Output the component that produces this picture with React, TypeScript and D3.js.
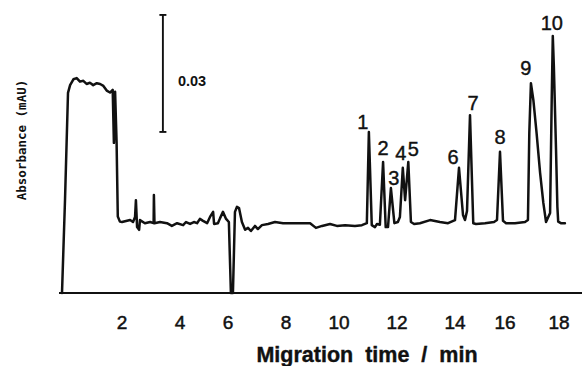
import React from 'react';
import * as d3 from 'd3';

type Pt = [number, number]; // [migration time (min), absorbance (AU)]

// Injection plug / solvent plateau, 0–2 min
const plateau: Pt[] = [
  [0.0, 0.0], [0.1, 0.0238], [0.2, 0.0513], [0.27, 0.0533], [0.38, 0.0548],
  [0.49, 0.0551], [0.6, 0.0542], [0.71, 0.0544], [0.82, 0.0536], [0.93, 0.0539],
  [1.04, 0.0533], [1.16, 0.0538], [1.27, 0.0536], [1.38, 0.0531], [1.49, 0.0519],
  [1.6, 0.0514], [1.69, 0.0521], [1.73, 0.0385], [1.77, 0.0516], [1.82, 0.0385],
  [1.86, 0.0196], [1.93, 0.0183],
];

// Noisy baseline with the EOF disturbance near 6 min
const baselineNoise: Pt[] = [
  [2.0, 0.0182], [2.28, 0.0187], [2.38, 0.0182], [2.45, 0.0195], [2.48, 0.0238],
  [2.52, 0.0169], [2.59, 0.0162], [2.62, 0.0187], [2.79, 0.0179], [2.97, 0.0182],
  [3.09, 0.0179], [3.1, 0.0251], [3.12, 0.0179], [3.31, 0.0182], [3.55, 0.0179],
  [3.72, 0.0172], [3.9, 0.0179], [4.13, 0.0174], [4.25, 0.0182], [4.42, 0.0177],
  [4.58, 0.0182], [4.71, 0.0179], [4.83, 0.019], [4.96, 0.0185], [5.13, 0.0179],
  [5.25, 0.0195], [5.38, 0.0208], [5.42, 0.0177], [5.58, 0.0179], [5.67, 0.0192],
  [5.79, 0.0208], [5.92, 0.019], [6.03, 0.0182], [6.1, 0.0], [6.17, 0.0],
  [6.24, 0.0208], [6.31, 0.0221], [6.38, 0.0218], [6.48, 0.0182], [6.59, 0.0162],
  [6.69, 0.0167], [6.79, 0.0159], [6.93, 0.0172], [7.03, 0.0164], [7.17, 0.0174],
  [7.38, 0.0177], [7.62, 0.0182], [7.9, 0.0179], [8.15, 0.0179], [8.53, 0.0179],
  [8.91, 0.0179], [9.13, 0.0167], [9.36, 0.0172], [9.66, 0.0177], [9.92, 0.0172],
  [10.21, 0.0174], [10.55, 0.0172], [10.79, 0.0174],
];

// Separated analytes, 11–18 min
const analyteRegion: Pt[] = [
  [10.96, 0.0179], [11.03, 0.0413], [11.13, 0.0174], [11.24, 0.0169], [11.31, 0.0177],
  [11.41, 0.0175], [11.52, 0.0336], [11.61, 0.0169], [11.69, 0.0169], [11.79, 0.0269],
  [11.91, 0.0179], [12.03, 0.0182], [12.1, 0.0195], [12.2, 0.0321], [12.28, 0.0238],
  [12.39, 0.0336], [12.48, 0.0182], [12.59, 0.0177], [12.79, 0.0179], [13.14, 0.0187],
  [13.48, 0.0182], [13.76, 0.0179], [14.0, 0.0187], [14.16, 0.0321], [14.32, 0.02],
  [14.4, 0.0187], [14.48, 0.021], [14.6, 0.0456], [14.73, 0.0179], [14.84, 0.0177],
  [15.2, 0.0179], [15.56, 0.0182], [15.68, 0.0187], [15.8, 0.0362], [15.92, 0.0185],
  [16.04, 0.0179], [16.37, 0.0179], [16.74, 0.0182], [16.85, 0.0187], [16.9, 0.041],
  [16.96, 0.0538], [17.05, 0.0495], [17.17, 0.041], [17.3, 0.0308], [17.42, 0.0231],
  [17.52, 0.0182], [17.67, 0.0205], [17.73, 0.0495], [17.77, 0.0659], [17.81, 0.058],
  [17.89, 0.0367], [17.94, 0.0221], [17.97, 0.0183], [18.07, 0.0179], [18.22, 0.0179],
];

// Numbered peaks: apex time and height
const peakIds = ['1', '2', '3', '4', '5', '6', '7', '8', '9', '10'];
const peakTimes = [11.03, 11.52, 11.79, 12.2, 12.39, 14.16, 14.6, 15.8, 16.96, 17.77];
const peakHeights = [0.0413, 0.0336, 0.0269, 0.0321, 0.0336, 0.0321, 0.0456, 0.0362, 0.0538, 0.0659];

const timeTicks = [2, 4, 6, 8, 10, 12, 14, 16, 18];

// Absorbance scale bar
const scaleBarTime = 3.41;
const scaleBarBase = 0.0413;
const scaleBarSpan = 0.03;

const W = 582;
const H = 366;

export default function App() {
  // chart recorder time axis, calibrated at each labelled minute mark
  const x = d3
    .scaleLinear()
    .domain([0, ...timeTicks])
    .range([62, 122, 180, 228, 286, 339, 397, 455, 505, 559]);
  const y = d3.scaleLinear().domain([0, 0.075]).range([293, 0.5]);

  const line = d3
    .line<Pt>()
    .x((d) => x(d[0]))
    .y((d) => y(d[1]));

  const trace = [...plateau, ...baselineNoise, ...analyteRegion];

  // label nudges (px) around each apex
  const labelDx = [-6, 0, 3, -2, 5, -6, 3, 0, -5, -1];
  const labelDy = [-10, -14, -10, -15, -13, -11, -12, -15, -15, -13];

  const barX = x(scaleBarTime);
  const barTop = y(scaleBarBase + scaleBarSpan);
  const barBottom = y(scaleBarBase);

  const sans = "'Liberation Sans', Arial, sans-serif";

  return (
    <svg
      width={W}
      height={H}
      viewBox={`0 0 ${W} ${H}`}
      style={{ position: 'absolute', left: 0, top: 0, background: '#fff' }}
    >
      <rect width={W} height={H} fill="#fff" />

      {/* time axis */}
      <line x1={x(-0.1)} x2={W} y1={y(0)} y2={y(0)} stroke="#111" strokeWidth={1.9} />
      {timeTicks.map((t) => (
        <text
          key={t}
          x={x(t)}
          y={329}
          textAnchor="middle"
          fontFamily={sans}
          fontSize={19}
          fill="#111"
          stroke="#111"
          strokeWidth={0.5}
        >
          {t}
        </text>
      ))}
      <text
        x={367}
        y={362}
        textAnchor="middle"
        fontFamily={sans}
        fontWeight="bold"
        fontSize={21.5}
        wordSpacing={6}
        fill="#111"
        stroke="#111"
        strokeWidth={0.4}
      >
        Migration time / min
      </text>

      {/* absorbance label */}
      <text
        transform="translate(26,140) rotate(-90)"
        textAnchor="middle"
        fontFamily="'DejaVu Sans Mono', monospace"
        fontWeight="bold"
        fontSize={12.5}
        fill="#111"
      >
        Absorbance (mAU)
      </text>

      {/* scale bar */}
      <g stroke="#111" strokeWidth={1.9}>
        <line x1={barX} x2={barX} y1={barTop} y2={barBottom} />
        <line x1={barX - 3.5} x2={barX + 3.5} y1={barTop} y2={barTop} />
        <line x1={barX - 3.5} x2={barX + 3.5} y1={barBottom} y2={barBottom} />
      </g>
      <text
        x={barX + 15}
        y={86}
        fontFamily={sans}
        fontWeight="bold"
        fontSize={14.5}
        fill="#111"
      >
        {scaleBarSpan.toFixed(2)}
      </text>

      {/* electropherogram */}
      <path
        d={line(trace) ?? ''}
        fill="none"
        stroke="#111"
        strokeWidth={2.5}
        strokeLinejoin="round"
        strokeLinecap="round"
      />

      {/* peak numbers */}
      {peakIds.map((id, i) => (
        <text
          key={id}
          x={x(peakTimes[i]) + labelDx[i]}
          y={y(peakHeights[i]) + labelDy[i] + 7}
          textAnchor="middle"
          fontFamily={sans}
          fontSize={20}
          fill="#111"
          stroke="#111"
          strokeWidth={0.4}
        >
          {id}
        </text>
      ))}
    </svg>
  );
}
